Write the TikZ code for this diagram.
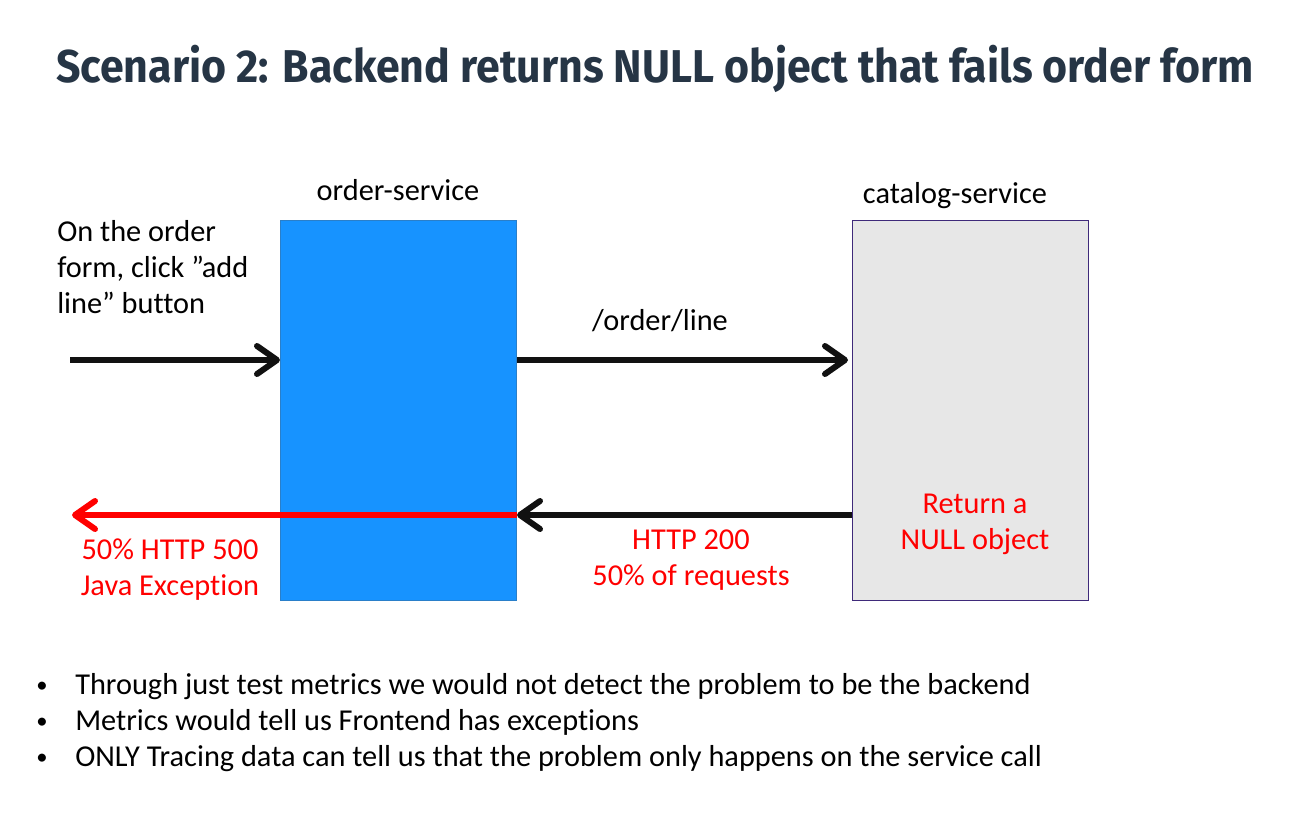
\documentclass[tikz,border=0pt]{standalone}
\usepackage{fontspec}
\setmainfont{Carlito}[Ligatures=NoCommon]
\newfontfamily\titlefont{Fira Sans}
\usetikzlibrary{arrows.meta}
\definecolor{titlecol}{HTML}{263545}
\definecolor{orderblue}{HTML}{1793FF}
\definecolor{orderedge}{HTML}{2A7FC9}
\definecolor{cataloggray}{HTML}{E7E7E7}
\definecolor{catalogedge}{HTML}{3F2A7A}
\definecolor{arrowblack}{HTML}{111111}
\definecolor{alertred}{HTML}{FF0000}
\newcommand{\notebullet}{\makebox[29.25pt][l]{\raisebox{1.5pt}{\fontsize{17}{17}\selectfont •}}}
\begin{document}
\begin{tikzpicture}[x=0.75pt,y=-0.75pt,
  lbl/.style={font=\fontsize{22.75}{27}\selectfont, inner sep=0pt},
  redlbl/.style={lbl, text=alertred, align=center},
  svc/.style={draw, line width=0.75pt, anchor=north west, minimum width=177pt, minimum height=285pt, inner sep=0pt},
  flow/.style={line width=4.5pt, draw=arrowblack, -{Straight Barb[length=15pt,width=21pt,line cap=round,line join=round]}},
]
\useasboundingbox (0,0) rectangle (1310,833);
\node[anchor=base, font=\titlefont\bfseries\fontsize{34.5}{40}\selectfont, text=titlecol, inner sep=0pt] (title) at (655,82) {\scalebox{0.932}[1]{Scenario 2: Backend returns NULL object that fails order form}};

\node[svc, fill=orderblue, draw=orderedge] (order) at (280,220) {};
\node[svc, fill=cataloggray, draw=catalogedge] (catalog) at (852,220) {};
\node[lbl, anchor=base] (ordername) at (398,200) {order-service};
\node[lbl, anchor=base] (catname) at (955,203) {catalog-service};
\node[lbl, anchor=base west, align=left] (click) at (57,313) {On the order\\form, click ”add\\line” button};

\coordinate (start) at (70,360);
\draw[flow] (start) -- (start -| order.west);
\node[lbl, anchor=base] (path) at (660,330) {/order/line};
\draw[flow] (order.east |- start) -- ([xshift=-3pt]catalog.west |- start);

\coordinate (fail) at (72,515);
\draw[flow, draw=alertred] (order.east |- fail) -- (fail);
\draw[flow] (catalog.west |- fail) -- (order.east |- fail);

\node[redlbl, anchor=base] (err) at (170,595) {50\% HTTP 500\\Java Exception};
\node[redlbl, anchor=base] (ok) at (691,585) {HTTP 200\\50\% of requests};
\node[redlbl, anchor=base] (null) at (975,549) {Return a\\NULL object};

\node[lbl, anchor=base west, align=left] (notes) at (36,766) {\notebullet Through just test metrics we would not detect the problem to be the backend\\
\notebullet Metrics would tell us Frontend has exceptions\\
\notebullet ONLY Tracing data can tell us that the problem only happens on the service call};
\end{tikzpicture}
\end{document}
